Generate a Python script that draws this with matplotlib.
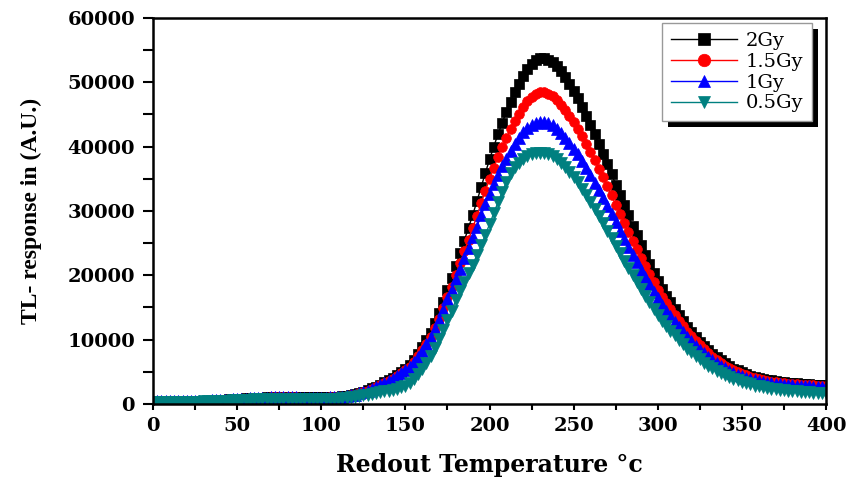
import numpy as np
import matplotlib.pyplot as plt
from matplotlib.patches import Rectangle
from matplotlib.ticker import MultipleLocator

# readout temperature grid (deg C), one point every 2.5 degrees
temps = np.arange(0, 400.1, 2.5)

gy2 = [400, 400, 410, 410, 420, 420, 430, 440,
       450, 460, 470, 490, 510, 530, 560, 590,
       620, 650, 690, 730, 770, 810, 850, 890,
       930, 960, 990, 1010, 1030, 1040, 1050, 1050,
       1050, 1040, 1030, 1020, 1010, 1000, 1000, 1000,
       1010, 1020, 1040, 1070, 1110, 1170, 1250, 1360,
       1500, 1680, 1900, 2140, 2400, 2700, 3000, 3350,
       3700, 4050, 4450, 4950, 5500, 6100, 6900, 7800,
       8800, 9900, 11000, 12500, 14100, 15800, 17700, 19500,
       21500, 23400, 25400, 27400, 29400, 31500, 33700, 35900,
       38000, 40000, 41900, 43700, 45400, 47000, 48500, 49800,
       51000, 52000, 52800, 53400, 53800, 53800, 53500, 53100,
       52500, 51700, 50800, 49800, 48700, 47500, 46200, 44800,
       43400, 41900, 40400, 38900, 37300, 35700, 34100, 32500,
       30900, 29300, 27700, 26200, 24700, 23200, 21800, 20400,
       19100, 17900, 16800, 15800, 14800, 13800, 12900, 12000,
       11200, 10400, 9700, 9000, 8400, 7800, 7300, 6800,
       6300, 5900, 5500, 5200, 4900, 4650, 4400, 4200,
       4050, 3900, 3750, 3650, 3550, 3450, 3380, 3300,
       3240, 3180, 3130, 3080, 3040, 3000, 2970, 2940,
       2920]

gy15 = [390, 390, 400, 400, 410, 410, 420, 430,
        440, 450, 460, 480, 490, 510, 540, 570,
        600, 630, 670, 710, 750, 790, 820, 860,
        900, 930, 960, 980, 1000, 1010, 1020, 1020,
        1020, 1010, 1000, 990, 980, 970, 970, 970,
        980, 990, 1010, 1040, 1080, 1130, 1210, 1320,
        1460, 1630, 1840, 2080, 2330, 2620, 2910, 3250,
        3590, 3910, 4270, 4730, 5230, 5790, 6540, 7380,
        8320, 9350, 10370, 11760, 13250, 14840, 16600, 18250,
        20100, 21860, 23700, 25510, 27340, 29230, 31170, 33140,
        34960, 36720, 38340, 39900, 41310, 42720, 44040, 45120,
        46160, 47010, 47680, 48110, 48420, 48420, 48150, 47790,
        47250, 46530, 45720, 44820, 43830, 42790, 41660, 40430,
        39200, 37890, 36560, 35240, 33820, 32400, 30970, 29550,
        28120, 26740, 25350, 24040, 22720, 21400, 20170, 18920,
        17760, 16660, 15660, 14740, 13820, 12900, 12070, 11240,
        10510, 9770, 9120, 8470, 7910, 7360, 6890, 6430,
        5960, 5590, 5210, 4930, 4660, 4420, 4180, 4000,
        3860, 3710, 3570, 3480, 3390, 3290, 3230, 3150,
        3100, 3040, 3000, 2950, 2910, 2880, 2850, 2820,
        2800]

gy1 = [390, 390, 400, 400, 410, 410, 420, 430,
       440, 450, 460, 480, 490, 510, 540, 570,
       600, 630, 670, 710, 750, 790, 820, 860,
       900, 930, 960, 980, 1000, 1010, 1020, 1020,
       1020, 1010, 1000, 990, 980, 970, 970, 970,
       980, 990, 1010, 1040, 1080, 1130, 1210, 1320,
       1460, 1630, 1840, 2080, 2330, 2620, 2910, 3250,
       3590, 3910, 4270, 4730, 5230, 5780, 6520, 7360,
       8270, 9290, 10290, 11660, 13110, 14600, 16250, 17760,
       19460, 21040, 22680, 24280, 25870, 27560, 29320, 31050,
       32680, 34200, 35620, 36930, 38140, 39340, 40450, 41380,
       42230, 42850, 43350, 43680, 43850, 43850, 43600, 43280,
       42790, 42140, 41400, 40590, 39690, 38770, 37770, 36680,
       35590, 34410, 33230, 32040, 30770, 29500, 28220, 26930,
       25650, 24430, 23200, 22040, 20870, 19690, 18580, 17470,
       16430, 15410, 14480, 13640, 12790, 11940, 11170, 10400,
       9720, 9040, 8440, 7840, 7320, 6810, 6380, 5950,
       5520, 5170, 4830, 4570, 4310, 4100, 3880, 3710,
       3580, 3450, 3320, 3240, 3150, 3070, 3010, 2940,
       2890, 2840, 2800, 2760, 2720, 2690, 2670, 2640,
       2630]

gy05 = [300, 300, 310, 310, 320, 320, 320, 330,
        340, 350, 350, 370, 380, 400, 420, 440,
        470, 490, 520, 550, 580, 610, 640, 670,
        700, 720, 740, 760, 770, 780, 790, 790,
        790, 780, 770, 770, 760, 750, 750, 750,
        760, 770, 780, 800, 830, 880, 940, 1020,
        1130, 1220, 1330, 1440, 1560, 1690, 1800, 1930,
        2040, 2190, 2340, 2560, 2800, 3250, 3860, 4600,
        5460, 6390, 7370, 8690, 10150, 11500, 13010, 14490,
        16130, 17480, 18900, 20280, 21670, 23120, 24630, 26280,
        27930, 29640, 31340, 32950, 34500, 35860, 36760, 37450,
        38050, 38530, 38860, 38980, 39010, 39010, 38790, 38500,
        38060, 37480, 36830, 36110, 35310, 34420, 33460, 32430,
        31390, 30290, 29190, 28090, 26920, 25750, 24580, 23410,
        22250, 21110, 19980, 18910, 17850, 16780, 15780, 14780,
        13850, 12960, 12140, 11400, 10660, 9920, 9260, 8600,
        8010, 7420, 6910, 6400, 5960, 5530, 5160, 4800,
        4440, 4150, 3860, 3650, 3430, 3220, 3020, 2860,
        2730, 2600, 2480, 2390, 2300, 2210, 2150, 2070,
        2020, 1960, 1910, 1860, 1810, 1770, 1730, 1690,
        1660]

labels = ["2Gy", "1.5Gy", "1Gy", "0.5Gy"]
colors = ["black", "red", "blue", "#008080"]
markers = ["s", "o", "^", "v"]
sizes = [6.5, 7, 8, 8]

fig = plt.figure(figsize=(8.6, 4.78), dpi=100)
ax = fig.add_axes([0.178, 0.155, 0.7825, 0.8075])

for vals, lab, c, m, ms in zip([gy2, gy15, gy1, gy05], labels, colors, markers, sizes):
    ax.plot(temps, vals, color=c, marker=m, ms=ms, mec=c, mew=0.5, lw=1, label=lab)

ax.set_xlim(0, 400)
ax.set_ylim(0, 60000)
ax.xaxis.set_major_locator(MultipleLocator(50))
ax.xaxis.set_minor_locator(MultipleLocator(25))
ax.yaxis.set_major_locator(MultipleLocator(10000))
ax.yaxis.set_minor_locator(MultipleLocator(5000))
ax.tick_params(which="both", direction="out", width=1.5, color="black")
ax.tick_params(axis="x", which="both", length=4.5, pad=5)
ax.tick_params(axis="y", which="both", length=7, pad=6)
for t in ax.get_xticklabels() + ax.get_yticklabels():
    t.set_fontfamily("DejaVu Serif")
    t.set_fontweight("bold")
    t.set_fontsize(14)
for sp in ax.spines.values():
    sp.set_linewidth(1.8)

ax.set_xlabel("Redout Temperature °c", fontfamily="DejaVu Serif",
              fontweight="bold", fontsize=17)
ax.xaxis.set_label_coords(0.5, -0.128)
ax.set_ylabel("TL- response in (A.U.)", fontfamily="Liberation Serif",
              fontweight="bold", fontsize=17)
ax.yaxis.set_label_coords(-0.165, 0.5)

leg = ax.legend(loc="upper right", bbox_to_anchor=(0.979, 0.987),
                borderaxespad=0, fancybox=False, framealpha=1,
                edgecolor="#999999", handlelength=3.4, handletextpad=0.45,
                labelspacing=0.15, borderpad=0.45,
                prop={"family": "DejaVu Serif", "size": 14})
leg.get_frame().set_linewidth(1.0)
leg.set_zorder(5)
for h in leg.legend_handles:
    h.set_markersize(9)

# black drop shadow behind the legend box
fig.canvas.draw()
bb = leg.get_window_extent()
ax.add_patch(Rectangle((bb.x0 + 6, bb.y0 - 6), bb.width, bb.height,
                       transform=None, facecolor="black", edgecolor="none",
                       zorder=4.5, clip_on=False))

fig.savefig("out.png", dpi=100)
